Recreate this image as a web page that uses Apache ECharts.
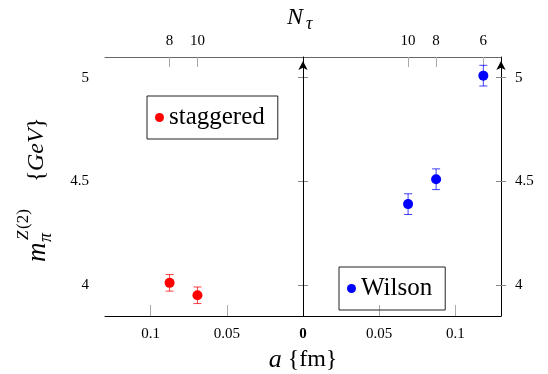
<!DOCTYPE html>
<html>
<head>
<meta charset="utf-8">
<script src="https://cdn.jsdelivr.net/npm/echarts@6/dist/echarts.min.js"></script>
<style>
  html, body { margin: 0; padding: 0; background: #fff; }
  #chart { width: 548px; height: 374px; }
</style>
</head>
<body>
<div id="chart"></div>
<script>
// lattice data, a in fm, pion screening mass in GeV
const staggeredNt = [8, 10]
const staggeredA = [0.0876, 0.0693]
const staggeredM = [4.01, 3.95]
const staggeredErr = [0.04, 0.04]

const wilsonNt = [10, 8, 6]
const wilsonA = [0.069, 0.0874, 0.1184]
const wilsonM = [4.39, 4.51, 5.01]
const wilsonErr = [0.05, 0.05, 0.05]

const aTicks = [-0.1, -0.05, 0, 0.05, 0.1]
const mTicks = [4, 4.5, 5]

const serif = '"Liberation Serif", "Times New Roman", Times, serif'

// staggered side is mirrored onto negative a
const stagX = staggeredA.map((a) => -a)
const ntLabels = {}
stagX.forEach((x, i) => { ntLabels[x.toFixed(4)] = String(staggeredNt[i]) })
wilsonA.forEach((x, i) => { ntLabels[x.toFixed(4)] = String(wilsonNt[i]) })
const ntTicks = [...stagX, ...wilsonA]

const stagPts = stagX.map((x, i) => [x, staggeredM[i], staggeredErr[i]])
const wilsonPts = wilsonA.map((x, i) => [x, wilsonM[i], wilsonErr[i]])

function errorItem(params, api) {
  const x = api.value(0)
  const y = api.value(1)
  const e = api.value(2)
  const hi = api.coord([x, y + e])
  const lo = api.coord([x, y - e])
  const w = 4
  const style = { stroke: api.visual('color'), lineWidth: 1, opacity: 0.75 }
  return {
    type: 'group',
    children: [
      { type: 'line', shape: { x1: hi[0], y1: hi[1], x2: lo[0], y2: lo[1] }, style },
      { type: 'line', shape: { x1: hi[0] - w, y1: hi[1], x2: hi[0] + w, y2: hi[1] }, style },
      { type: 'line', shape: { x1: lo[0] - w, y1: lo[1], x2: lo[0] + w, y2: lo[1] }, style },
    ],
  }
}

function yAx(position, outer) {
  return {
    type: 'value',
    position,
    min: 3.85,
    max: 5.1,
    axisLine: outer
      ? { show: true, lineStyle: { color: '#000', width: 1 }, symbol: ['none', 'arrow'], symbolSize: [7, 9], symbolOffset: [0, -4] }
      : { show: false },
    axisTick: { show: true, customValues: mTicks, inside: !outer, length: 5, lineStyle: { color: '#888' } },
    axisLabel: outer
      ? { customValues: mTicks, margin: position === 'left' ? 16 : 14, fontSize: 15, fontFamily: serif, color: '#000' }
      : { show: false },
    splitLine: { show: false },
  }
}

const legendBase = {
  orient: 'horizontal',
  icon: 'circle',
  itemWidth: 9,
  itemHeight: 9,
  padding: [9, 13, 9, 8],
  borderColor: '#222',
  borderWidth: 1,
  selectedMode: false,
  textStyle: { fontSize: 25, fontFamily: serif, color: '#000' },
}

function txt(x, y, text, font) {
  return { type: 'text', x, y, style: { text, font, fill: '#000', verticalAlign: 'middle' } }
}

const chart = echarts.init(document.getElementById('chart'), null, { renderer: 'canvas' })
chart.setOption({
  animation: false,
  grid: { left: 105, right: 47, top: 57, bottom: 58, outerBoundsMode: 'none', containLabel: false },
  legend: [
    { ...legendBase, data: ['staggered'], left: 147, top: 96 },
    { ...legendBase, data: ['Wilson'], left: 339, top: 267 },
  ],
  xAxis: [
    {
      type: 'value',
      position: 'bottom',
      min: -0.13,
      max: 0.13,
      axisLine: { show: true, onZero: false, lineStyle: { color: '#000' } },
      axisTick: { show: true, customValues: aTicks, inside: true, length: 11, lineStyle: { color: '#aaa' } },
      axisLabel: {
        customValues: aTicks,
        margin: 11,
        fontSize: 15,
        fontFamily: serif,
        color: '#000',
        formatter: (v) => (v === 0 ? '{b|0}' : String(Math.abs(v))),
        rich: { b: { fontSize: 15, fontFamily: serif, fontWeight: 'bold', color: '#000' } },
      },
      splitLine: { show: false },
      name: '{i|a} {fm}',
      nameLocation: 'middle',
      nameGap: 30,
      nameTextStyle: {
        fontSize: 24,
        fontFamily: serif,
        color: '#000',
        rich: { i: { fontSize: 26, fontStyle: 'italic', fontFamily: serif, color: '#000' } },
      },
    },
    {
      type: 'value',
      position: 'top',
      min: -0.13,
      max: 0.13,
      axisLine: { show: true, onZero: false, lineStyle: { color: '#666' } },
      axisTick: { show: true, customValues: ntTicks, inside: true, length: 10, lineStyle: { color: '#aaa' } },
      axisLabel: {
        customValues: ntTicks,
        margin: 8,
        fontSize: 15,
        fontFamily: serif,
        color: '#000',
        formatter: (v) => ntLabels[v.toFixed(4)] || '',
      },
      splitLine: { show: false },
    },
  ],
  yAxis: [yAx('left', true), yAx('left', false), yAx('right', true), yAx('right', false)],
  graphic: [
    txt(287, 18, 'N', 'italic 24px ' + serif),
    txt(306, 24, 'τ', 'italic 18px ' + serif),
    {
      type: 'group',
      x: 0,
      y: 262,
      rotation: Math.PI / 2,
      children: [
        txt(0, 38, 'm', 'italic 27px ' + serif),
        txt(20, 46, 'π', 'italic 18px ' + serif),
        txt(22, 24, 'Z', 'italic 17px ' + serif),
        txt(33, 24, '(2)', '17px ' + serif),
        txt(80, 37, '{', '24px ' + serif),
        txt(91, 37, 'GeV', 'italic 24px ' + serif),
        txt(133, 37, '}', '24px ' + serif),
      ],
    },
  ],
  series: [
    {
      name: 'staggered-err',
      type: 'custom',
      xAxisIndex: 0,
      yAxisIndex: 0,
      itemStyle: { color: '#ff0000' },
      renderItem: errorItem,
      encode: { x: 0, y: 1 },
      data: stagPts,
      z: 2,
    },
    {
      name: 'Wilson-err',
      type: 'custom',
      xAxisIndex: 0,
      yAxisIndex: 0,
      itemStyle: { color: '#0000ff' },
      renderItem: errorItem,
      encode: { x: 0, y: 1 },
      data: wilsonPts,
      z: 2,
    },
    {
      name: 'staggered',
      type: 'scatter',
      xAxisIndex: 0,
      yAxisIndex: 0,
      symbol: 'circle',
      symbolSize: 10,
      itemStyle: { color: '#ff0000', opacity: 1 },
      data: stagPts.map((p) => [p[0], p[1]]),
      z: 3,
    },
    {
      name: 'Wilson',
      type: 'scatter',
      xAxisIndex: 0,
      yAxisIndex: 0,
      symbol: 'circle',
      symbolSize: 10,
      itemStyle: { color: '#0000ff', opacity: 1 },
      data: wilsonPts.map((p) => [p[0], p[1]]),
      z: 3,
      markLine: {
        silent: true,
        symbol: 'none',
        label: { show: false },
        lineStyle: { color: '#000', width: 1, type: 'solid' },
        data: [{ xAxis: 0 }],
      },
    },
  ],
})
</script>
</body>
</html>
